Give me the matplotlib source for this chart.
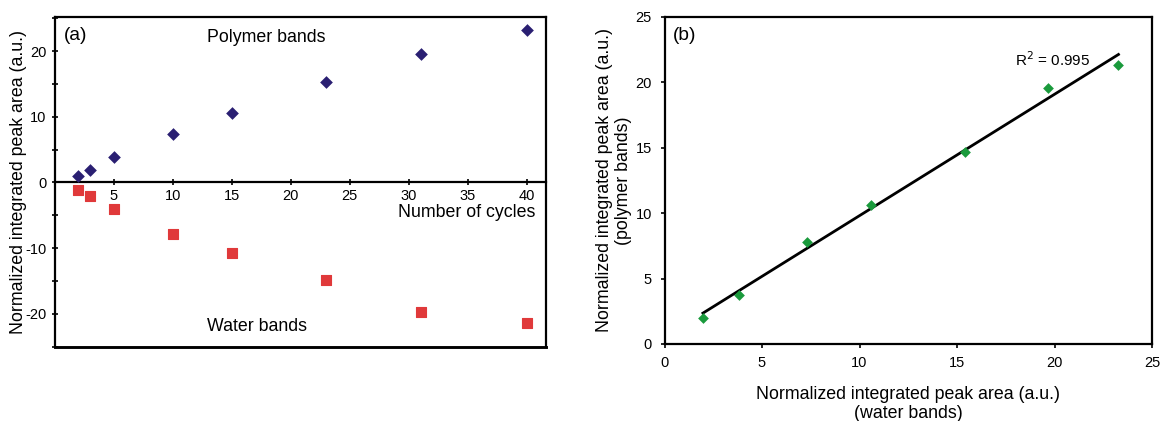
import numpy as np
import matplotlib
matplotlib.use("Agg")
import matplotlib.pyplot as plt
from matplotlib.ticker import MultipleLocator

plt.rcParams['font.family'] = ['Liberation Sans', 'DejaVu Sans']
plt.rcParams['axes.unicode_minus'] = False

# Panel (a) data
cycles = [2, 3, 5, 10, 15, 23, 31, 40]
polymer = [1.0, 1.9, 3.8, 7.3, 10.5, 15.3, 19.6, 23.2]
water = [-1.1, -2.1, -4.0, -7.8, -10.7, -14.8, -19.7, -21.4]

# Panel (b) data
water_abs = [1.97, 3.83, 7.31, 10.59, 15.42, 19.66, 23.28]
polymer_b = [2.01, 3.77, 7.82, 10.64, 14.66, 19.58, 21.34]

navy = '#2a1f72'
red = '#e0393a'
green = '#1a9a3c'
tfs = 10.5   # tick labels
fs = 12.8    # other texts
lw = 1.6

fig = plt.figure(figsize=(11.64, 4.21), dpi=100)

# ---------- (a) ----------
ax = fig.add_axes([54.5 / 1164, 0.1765, (545.7 - 54.5) / 1164, 0.7835])
ax.set_xlim(0, 41.6)
ax.set_ylim(-25, 25.2)
ax.scatter(cycles, polymer, marker='D', s=42, color=navy, zorder=3, linewidths=0)
ax.scatter(cycles, water, marker='s', s=48, color=red, zorder=3, linewidths=0.8,
           edgecolors=red, joinstyle='round')
ax.spines['bottom'].set_position(('data', 0))
for s in ax.spines.values():
    s.set_linewidth(lw)
ax.plot([0, 1], [0, 0], transform=ax.transAxes, color='k', lw=lw * 1.3, clip_on=False)
ax.set_xticks([5, 10, 15, 20, 25, 30, 35, 40])
ax.set_yticks([-20, -10, 0, 10, 20])
ax.yaxis.set_minor_locator(MultipleLocator(5))
ax.tick_params(axis='x', direction='inout', length=4, width=1.2, labelsize=tfs, pad=3)
ax.tick_params(axis='y', which='both', direction='inout', length=4, width=1.2, labelsize=tfs, pad=4)
ax.set_ylabel('Normalized integrated peak area (a.u.)', fontsize=fs)
ax.yaxis.set_label_coords(-0.056, 0.5)
ax.text(40.76, -4.6, 'Number of cycles', fontsize=fs, ha='right', va='center')
ax.text(0.8, 22.4, '(a)', fontsize=fs + 1, ha='left', va='center')
ax.text(12.9, 22.1, 'Polymer bands', fontsize=fs, ha='left', va='center')
ax.text(12.9, -22.0, 'Water bands', fontsize=fs, ha='left', va='center')

# ---------- (b) ----------
bx = fig.add_axes([664.5 / 1164, 0.183, (1152 - 664.5) / 1164, 0.777])
bx.set_xlim(0, 25)
bx.set_ylim(0, 25)
bx.scatter(water_abs, polymer_b, marker='D', s=30, color=green, zorder=3, linewidths=0)
k, b0 = np.polyfit(water_abs, polymer_b, 1)
xf = np.array([min(water_abs), max(water_abs)])
bx.plot(xf, k * xf + b0, color='k', lw=2, zorder=2)
for s in bx.spines.values():
    s.set_linewidth(lw)
bx.set_xticks([0, 5, 10, 15, 20, 25])
bx.set_yticks([0, 5, 10, 15, 20, 25])
bx.tick_params(direction='out', length=3, width=1.2, labelsize=tfs, pad=6)
bx.set_xlabel('Normalized integrated peak area (a.u.)\n(water bands)', fontsize=fs,
              linespacing=1.15)
bx.xaxis.set_label_coords(0.5, -0.13)
bx.set_ylabel('Normalized integrated peak area (a.u.)\n(polymer bands)', fontsize=fs,
              linespacing=1.15)
bx.yaxis.set_label_coords(-0.067, 0.5)
bx.text(0.45, 23.6, '(b)', fontsize=fs + 1, ha='left', va='center')
bx.text(17.97, 21.7, r'R$^2$ = 0.995', fontsize=tfs + 0.5, ha='left', va='center')

fig.savefig('out.png', dpi=100)
